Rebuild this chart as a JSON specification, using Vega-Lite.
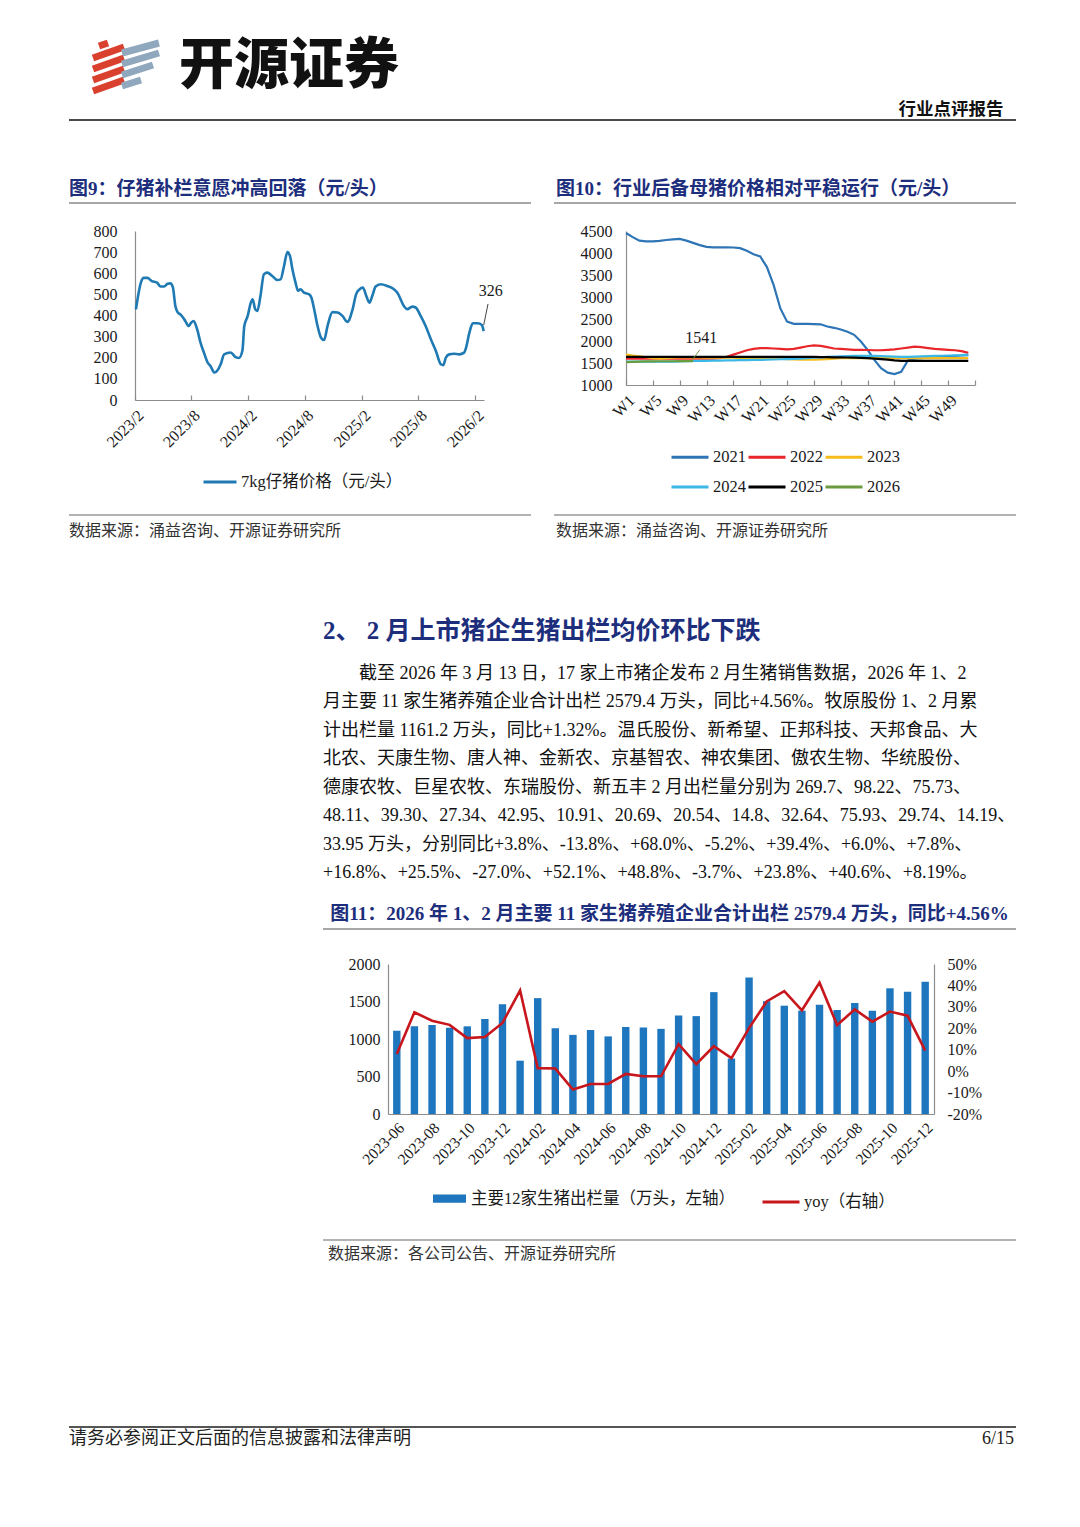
{
"$schema": "https://vega.github.io/schema/vega-lite/v6.json",
"background": "white",
"padding": {"left": 68, "top": 38, "right": 62, "bottom": 60},
"config": {
  "view": {"stroke": null},
  "font": "Liberation Serif, Noto Sans CJK SC",
  "axis": {"grid": false, "title": null, "labelFont": "Liberation Serif, Noto Sans CJK SC", "labelColor": "#1a1a1a", "labelFontSize": 16, "domainColor": "#8c8c8c", "domainWidth": 1.2, "ticks": false, "tickColor": "#8c8c8c", "tickWidth": 1.2, "labelOverlap": false},
  "legend": {"title": null, "labelFont": "Liberation Serif, Noto Sans CJK SC", "labelFontSize": 16.5, "labelColor": "#1a1a1a", "padding": 0, "labelLimit": 400},
  "title": {"font": "Liberation Serif, Noto Sans CJK SC", "anchor": "start", "frame": "group", "fontWeight": "bold", "color": "#1d2e7c", "fontSize": 19}
},
"datasets": {
  "logo": [
    {"part": "red", "x1": 2, "y1": 38, "x2": 33, "y2": 49},
    {"part": "red", "x1": 2, "y1": 27, "x2": 33, "y2": 38},
    {"part": "red", "x1": 2, "y1": 16, "x2": 33, "y2": 27},
    {"part": "red", "x1": 2, "y1": 5, "x2": 33, "y2": 16},
    {"part": "red", "x1": 8, "y1": 50, "x2": 17, "y2": 53},
    {"part": "blue", "x1": 31, "y1": 43, "x2": 68, "y2": 53},
    {"part": "blue", "x1": 31, "y1": 32, "x2": 68, "y2": 43},
    {"part": "blue", "x1": 31, "y1": 21, "x2": 62, "y2": 31},
    {"part": "blue", "x1": 31, "y1": 10, "x2": 50, "y2": 16}
  ],
  "piglet": [
    {"d": "2023-02-04", "p": 429}, {"d": "2023-02-20", "p": 556}, {"d": "2023-03-01", "p": 578}, {"d": "2023-03-13", "p": 578},
    {"d": "2023-03-27", "p": 563}, {"d": "2023-04-13", "p": 556}, {"d": "2023-04-24", "p": 537}, {"d": "2023-05-06", "p": 537},
    {"d": "2023-05-17", "p": 550}, {"d": "2023-05-26", "p": 552}, {"d": "2023-06-03", "p": 533}, {"d": "2023-06-11", "p": 445},
    {"d": "2023-06-19", "p": 414}, {"d": "2023-06-29", "p": 403}, {"d": "2023-07-13", "p": 374}, {"d": "2023-07-24", "p": 350},
    {"d": "2023-08-01", "p": 366}, {"d": "2023-08-09", "p": 374}, {"d": "2023-08-20", "p": 335}, {"d": "2023-08-31", "p": 272},
    {"d": "2023-09-13", "p": 216}, {"d": "2023-09-22", "p": 180}, {"d": "2023-10-02", "p": 161}, {"d": "2023-10-15", "p": 130},
    {"d": "2023-11-04", "p": 169}, {"d": "2023-11-15", "p": 216}, {"d": "2023-12-06", "p": 225}, {"d": "2023-12-22", "p": 203},
    {"d": "2024-01-02", "p": 199}, {"d": "2024-01-13", "p": 234}, {"d": "2024-01-19", "p": 350}, {"d": "2024-01-30", "p": 398},
    {"d": "2024-02-09", "p": 461}, {"d": "2024-02-15", "p": 477}, {"d": "2024-02-23", "p": 430}, {"d": "2024-03-01", "p": 422},
    {"d": "2024-03-11", "p": 492}, {"d": "2024-03-22", "p": 595}, {"d": "2024-04-02", "p": 603}, {"d": "2024-04-18", "p": 587},
    {"d": "2024-05-04", "p": 568}, {"d": "2024-05-15", "p": 571}, {"d": "2024-05-25", "p": 627}, {"d": "2024-06-06", "p": 700},
    {"d": "2024-06-14", "p": 682}, {"d": "2024-06-22", "p": 619}, {"d": "2024-07-02", "p": 556}, {"d": "2024-07-10", "p": 517},
    {"d": "2024-07-18", "p": 524}, {"d": "2024-07-29", "p": 508}, {"d": "2024-08-15", "p": 500}, {"d": "2024-08-22", "p": 485},
    {"d": "2024-08-31", "p": 430}, {"d": "2024-09-11", "p": 350}, {"d": "2024-09-22", "p": 295}, {"d": "2024-10-02", "p": 284},
    {"d": "2024-10-13", "p": 350}, {"d": "2024-10-29", "p": 416}, {"d": "2024-11-14", "p": 414}, {"d": "2024-11-30", "p": 398},
    {"d": "2024-12-16", "p": 370}, {"d": "2025-01-02", "p": 430}, {"d": "2025-01-13", "p": 500}, {"d": "2025-01-24", "p": 524},
    {"d": "2025-02-04", "p": 532}, {"d": "2025-02-15", "p": 492}, {"d": "2025-02-25", "p": 461}, {"d": "2025-03-06", "p": 492},
    {"d": "2025-03-17", "p": 537}, {"d": "2025-04-02", "p": 548}, {"d": "2025-04-23", "p": 540}, {"d": "2025-05-15", "p": 524},
    {"d": "2025-05-26", "p": 508}, {"d": "2025-06-16", "p": 445}, {"d": "2025-06-27", "p": 430}, {"d": "2025-07-13", "p": 442},
    {"d": "2025-07-24", "p": 438}, {"d": "2025-08-09", "p": 398}, {"d": "2025-08-25", "p": 350}, {"d": "2025-09-11", "p": 287},
    {"d": "2025-09-27", "p": 232}, {"d": "2025-10-13", "p": 169}, {"d": "2025-10-21", "p": 165}, {"d": "2025-10-29", "p": 200},
    {"d": "2025-11-09", "p": 216}, {"d": "2025-11-25", "p": 219}, {"d": "2025-12-11", "p": 216}, {"d": "2025-12-27", "p": 224},
    {"d": "2026-01-02", "p": 247}, {"d": "2026-01-13", "p": 319}, {"d": "2026-01-24", "p": 363}, {"d": "2026-02-09", "p": 363},
    {"d": "2026-02-22", "p": 355}, {"d": "2026-02-28", "p": 326}
  ],
  "gilt": [
    {"w": 1, "2021": 4455, "2022": 1600, "2023": 1690, "2024": 1530, "2025": 1640, "2026": 1520},
    {"w": 2, "2021": 4360, "2022": 1600, "2023": 1670, "2024": 1530, "2025": 1640, "2026": 1525},
    {"w": 3, "2021": 4280, "2022": 1600, "2023": 1650, "2024": 1530, "2025": 1640, "2026": 1530},
    {"w": 4, "2021": 4265, "2022": 1600, "2023": 1630, "2024": 1530, "2025": 1640, "2026": 1535},
    {"w": 5, "2021": 4265, "2022": 1600, "2023": 1610, "2024": 1530, "2025": 1640, "2026": 1538},
    {"w": 6, "2021": 4275, "2022": 1600, "2023": 1600, "2024": 1530, "2025": 1640, "2026": 1540},
    {"w": 7, "2021": 4295, "2022": 1600, "2023": 1610, "2024": 1530, "2025": 1640, "2026": 1540},
    {"w": 8, "2021": 4310, "2022": 1600, "2023": 1620, "2024": 1530, "2025": 1640, "2026": 1540},
    {"w": 9, "2021": 4320, "2022": 1600, "2023": 1630, "2024": 1535, "2025": 1640, "2026": 1541},
    {"w": 10, "2021": 4280, "2022": 1600, "2023": 1630, "2024": 1540, "2025": 1640, "2026": 1541},
    {"w": 11, "2021": 4230, "2022": 1600, "2023": 1630, "2024": 1545, "2025": 1640, "2026": 1541},
    {"w": 12, "2021": 4180, "2022": 1600, "2023": 1630, "2024": 1550, "2025": 1640},
    {"w": 13, "2021": 4140, "2022": 1600, "2023": 1620, "2024": 1550, "2025": 1640},
    {"w": 14, "2021": 4130, "2022": 1600, "2023": 1620, "2024": 1555, "2025": 1640},
    {"w": 15, "2021": 4130, "2022": 1610, "2023": 1620, "2024": 1555, "2025": 1640},
    {"w": 16, "2021": 4130, "2022": 1640, "2023": 1620, "2024": 1560, "2025": 1640},
    {"w": 17, "2021": 4125, "2022": 1690, "2023": 1620, "2024": 1560, "2025": 1640},
    {"w": 18, "2021": 4110, "2022": 1740, "2023": 1610, "2024": 1565, "2025": 1640},
    {"w": 19, "2021": 4050, "2022": 1790, "2023": 1610, "2024": 1565, "2025": 1640},
    {"w": 20, "2021": 3970, "2022": 1820, "2023": 1610, "2024": 1570, "2025": 1640},
    {"w": 21, "2021": 3920, "2022": 1840, "2023": 1600, "2024": 1570, "2025": 1640},
    {"w": 22, "2021": 3680, "2022": 1840, "2023": 1600, "2024": 1575, "2025": 1640},
    {"w": 23, "2021": 3270, "2022": 1830, "2023": 1600, "2024": 1580, "2025": 1640},
    {"w": 24, "2021": 2740, "2022": 1820, "2023": 1600, "2024": 1585, "2025": 1640},
    {"w": 25, "2021": 2440, "2022": 1810, "2023": 1590, "2024": 1590, "2025": 1640},
    {"w": 26, "2021": 2390, "2022": 1820, "2023": 1580, "2024": 1595, "2025": 1640},
    {"w": 27, "2021": 2390, "2022": 1850, "2023": 1575, "2024": 1600, "2025": 1640},
    {"w": 28, "2021": 2390, "2022": 1880, "2023": 1575, "2024": 1610, "2025": 1640},
    {"w": 29, "2021": 2385, "2022": 1900, "2023": 1575, "2024": 1620, "2025": 1640},
    {"w": 30, "2021": 2380, "2022": 1890, "2023": 1580, "2024": 1630, "2025": 1635},
    {"w": 31, "2021": 2330, "2022": 1860, "2023": 1590, "2024": 1640, "2025": 1635},
    {"w": 32, "2021": 2300, "2022": 1830, "2023": 1600, "2024": 1645, "2025": 1630},
    {"w": 33, "2021": 2260, "2022": 1820, "2023": 1610, "2024": 1650, "2025": 1630},
    {"w": 34, "2021": 2210, "2022": 1810, "2023": 1610, "2024": 1655, "2025": 1625},
    {"w": 35, "2021": 2140, "2022": 1800, "2023": 1610, "2024": 1660, "2025": 1620},
    {"w": 36, "2021": 1990, "2022": 1800, "2023": 1610, "2024": 1660, "2025": 1615},
    {"w": 37, "2021": 1800, "2022": 1795, "2023": 1610, "2024": 1660, "2025": 1610},
    {"w": 38, "2021": 1570, "2022": 1790, "2023": 1610, "2024": 1660, "2025": 1600},
    {"w": 39, "2021": 1380, "2022": 1790, "2023": 1610, "2024": 1655, "2025": 1590},
    {"w": 40, "2021": 1280, "2022": 1800, "2023": 1610, "2024": 1650, "2025": 1575},
    {"w": 41, "2021": 1250, "2022": 1810, "2023": 1610, "2024": 1645, "2025": 1560},
    {"w": 42, "2021": 1300, "2022": 1830, "2023": 1610, "2024": 1640, "2025": 1550},
    {"w": 43, "2021": 1560, "2022": 1850, "2023": 1610, "2024": 1640, "2025": 1550},
    {"w": 44, "2021": 1600, "2022": 1870, "2023": 1610, "2024": 1645, "2025": 1550},
    {"w": 45, "2021": 1610, "2022": 1860, "2023": 1610, "2024": 1650, "2025": 1550},
    {"w": 46, "2021": 1620, "2022": 1840, "2023": 1610, "2024": 1655, "2025": 1550},
    {"w": 47, "2021": 1630, "2022": 1820, "2023": 1610, "2024": 1660, "2025": 1550},
    {"w": 48, "2021": 1640, "2022": 1810, "2023": 1610, "2024": 1665, "2025": 1550},
    {"w": 49, "2021": 1650, "2022": 1800, "2023": 1610, "2024": 1670, "2025": 1550},
    {"w": 50, "2021": 1660, "2022": 1790, "2023": 1610, "2024": 1675, "2025": 1550},
    {"w": 51, "2021": 1670, "2022": 1770, "2023": 1610, "2024": 1680, "2025": 1550},
    {"w": 52, "2021": 1680, "2022": 1730, "2023": 1610, "2024": 1690, "2025": 1550}
  ],
  "sales": [
    {"m": "2023-06", "v": 1110, "yoy": 8.0}, {"m": "2023-07", "v": 1170, "yoy": 27.5}, {"m": "2023-08", "v": 1187, "yoy": 23.5},
    {"m": "2023-09", "v": 1151, "yoy": 21.6}, {"m": "2023-10", "v": 1169, "yoy": 15.4}, {"m": "2023-11", "v": 1267, "yoy": 15.9},
    {"m": "2023-12", "v": 1462, "yoy": 22.5}, {"m": "2024-01", "v": 711, "yoy": 37.7}, {"m": "2024-02", "v": 1545, "yoy": 1.4},
    {"m": "2024-03", "v": 1145, "yoy": 1.2}, {"m": "2024-04", "v": 1055, "yoy": -8.6}, {"m": "2024-05", "v": 1120, "yoy": -6.0},
    {"m": "2024-06", "v": 1035, "yoy": -6.0}, {"m": "2024-07", "v": 1160, "yoy": -1.3}, {"m": "2024-08", "v": 1155, "yoy": -2.4},
    {"m": "2024-09", "v": 1135, "yoy": -2.4}, {"m": "2024-10", "v": 1315, "yoy": 12.6}, {"m": "2024-11", "v": 1305, "yoy": 3.3},
    {"m": "2024-12", "v": 1625, "yoy": 11.6}, {"m": "2025-01", "v": 740, "yoy": 6.1}, {"m": "2025-02", "v": 1820, "yoy": 20.1},
    {"m": "2025-03", "v": 1505, "yoy": 32.5}, {"m": "2025-04", "v": 1444, "yoy": 37.3}, {"m": "2025-05", "v": 1378, "yoy": 28.4},
    {"m": "2025-06", "v": 1458, "yoy": 41.3}, {"m": "2025-07", "v": 1387, "yoy": 21.5}, {"m": "2025-08", "v": 1480, "yoy": 28.8},
    {"m": "2025-09", "v": 1378, "yoy": 23.1}, {"m": "2025-10", "v": 1676, "yoy": 27.8}, {"m": "2025-11", "v": 1631, "yoy": 25.9},
    {"m": "2025-12", "v": 1764, "yoy": 9.6}
  ]
},
"spacing": 0,
"resolve": {"scale": {"color": "independent", "fill": "independent", "stroke": "independent"}, "legend": {"color": "independent", "fill": "independent", "stroke": "independent"}},
"vconcat": [
  {"hconcat": [
    {"width": 22, "height": 81, "data": {"values": []}, "mark": "point"},
    {"width": 70, "height": 58, "data": {"name": "logo"},
     "mark": {"type": "rule", "strokeWidth": 7, "strokeCap": "butt"},
     "encoding": {
       "x": {"field": "x1", "type": "quantitative", "scale": {"domain": [0, 70], "nice": false, "zero": false}, "axis": null},
       "y": {"field": "y1", "type": "quantitative", "scale": {"domain": [0, 58], "nice": false, "zero": false}, "axis": null},
       "x2": {"field": "x2"}, "y2": {"field": "y2"},
       "color": {"field": "part", "type": "nominal", "scale": {"domain": ["red", "blue"], "range": ["#D9412E", "#8FA8BD"]}, "legend": null}
     }},
    {"width": 18, "height": 1, "data": {"values": []}, "mark": "point"},
    {"width": 220, "height": 56, "data": {"values": [{"t": "开源证券"}]},
     "mark": {"type": "text", "font": "Noto Sans CJK SC", "fontWeight": 900, "fontSize": 55, "color": "#111111"},
     "encoding": {"text": {"field": "t"}}},
    {"width": 497, "height": 1, "data": {"values": []}, "mark": "point"},
    {"width": 110, "height": 81, "data": {"values": [{"t": "行业点评报告"}]},
     "mark": {"type": "text", "font": "Noto Sans CJK SC", "fontWeight": "bold", "fontSize": 17.5, "color": "#111111", "baseline": "bottom"},
     "encoding": {"text": {"field": "t"}, "y": {"value": "height"}}}
  ], "spacing": 0, "bounds": "flush", "resolve": {"scale": {"color": "independent"}, "legend": {"color": "independent"}}},

  {"hconcat": [
    {"width": 462, "height": 1, "data": {"values": [{}]},
     "mark": {"type": "rule", "color": "#4a4a4a", "strokeWidth": 2},
     "encoding": {"y": {"value": "height"}},
     "title": {"text": "图9：仔猪补栏意愿冲高回落（元/头）", "orient": "bottom", "offset": 59, "baseline": "top"}},
    {"width": 23, "height": 1, "data": {"values": [{}]},
     "mark": {"type": "rule", "color": "#4a4a4a", "strokeWidth": 2},
     "encoding": {"y": {"value": "height"}}},
    {"width": 462, "height": 1, "data": {"values": [{}]},
     "mark": {"type": "rule", "color": "#4a4a4a", "strokeWidth": 2},
     "encoding": {"y": {"value": "height"}},
     "title": {"text": "图10：行业后备母猪价格相对平稳运行（元/头）", "orient": "bottom", "offset": 59, "dx": 2, "baseline": "top"}},
    {"width": 1, "height": 83, "data": {"values": []}, "mark": "point"}
  ], "spacing": 0, "bounds": "flush"},

  {"hconcat": [
    {"width": 462, "height": 1, "data": {"values": [{}]},
     "mark": {"type": "rule", "color": "#8a8a8a", "strokeWidth": 1.5},
     "encoding": {"y": {"value": "height"}}},
    {"width": 23, "height": 21, "data": {"values": []}, "mark": "point"},
    {"width": 462, "height": 1, "data": {"values": [{}]},
     "mark": {"type": "rule", "color": "#8a8a8a", "strokeWidth": 1.5},
     "encoding": {"y": {"value": "height"}}}
  ], "spacing": 0, "bounds": "flush"},

  {"hconcat": [
    {"width": 66, "height": 283, "data": {"values": []}, "mark": "point"},
    {"width": 349, "height": 169, "data": {"name": "piglet"},
     "layer": [
       {"mark": {"type": "line", "strokeWidth": 2.6, "interpolate": "monotone"},
        "encoding": {
          "x": {"field": "d", "type": "temporal",
                "scale": {"type": "utc", "domain": [{"year": 2023, "month": 2, "date": 1, "utc": true}, {"year": 2026, "month": 3, "date": 1, "utc": true}]},
                "axis": {"values": [{"year": 2023, "month": 2, "date": 1, "utc": true}, {"year": 2023, "month": 8, "date": 1, "utc": true}, {"year": 2024, "month": 2, "date": 1, "utc": true}, {"year": 2024, "month": 8, "date": 1, "utc": true}, {"year": 2025, "month": 2, "date": 1, "utc": true}, {"year": 2025, "month": 8, "date": 1, "utc": true}, {"year": 2026, "month": 2, "date": 1, "utc": true}],
                         "format": "%Y/%-m", "labelAngle": -45, "labelFontSize": 16, "labelPadding": 12, "labelOverlap": false, "ticks": true, "tickSize": -5}},
          "y": {"field": "p", "type": "quantitative", "scale": {"domain": [0, 800], "nice": false},
                "axis": {"values": [0, 100, 200, 300, 400, 500, 600, 700, 800], "format": "d", "labelPadding": 18, "labelOverlap": false}},
          "color": {"datum": "7kg仔猪价格（元/头）", "scale": {"range": ["#1F7AB4"]},
                    "legend": {"orient": "none", "legendX": 67, "legendY": 233, "symbolType": "stroke", "symbolSize": 1089, "symbolStrokeWidth": 3, "labelOffset": 3}}
        }},
       {"transform": [{"filter": "datum.p == 326"}],
        "mark": {"type": "rule", "color": "#444444", "strokeWidth": 1},
        "encoding": {
          "x": {"field": "d", "type": "temporal",
                "axis": {"values": [{"year": 2023, "month": 2, "date": 1, "utc": true}, {"year": 2023, "month": 8, "date": 1, "utc": true}, {"year": 2024, "month": 2, "date": 1, "utc": true}, {"year": 2024, "month": 8, "date": 1, "utc": true}, {"year": 2025, "month": 2, "date": 1, "utc": true}, {"year": 2025, "month": 8, "date": 1, "utc": true}, {"year": 2026, "month": 2, "date": 1, "utc": true}],
                         "format": "%Y/%-m", "labelAngle": -45, "labelFontSize": 16, "labelPadding": 12, "labelOverlap": false, "ticks": true, "tickSize": -5}},
          "y": {"datum": 355, "type": "quantitative",
                "axis": {"values": [0, 100, 200, 300, 400, 500, 600, 700, 800], "format": "d", "labelPadding": 18, "labelOverlap": false}},
          "x2": {"datum": {"year": 2026, "month": 3, "date": 14, "utc": true}},
          "y2": {"datum": 455}
        }},
       {"transform": [{"filter": "datum.p == 326"}],
        "mark": {"type": "text", "font": "Liberation Serif", "fontSize": 16, "color": "#1a1a1a", "dx": 7},
        "encoding": {
          "x": {"field": "d", "type": "temporal",
                "axis": {"values": [{"year": 2023, "month": 2, "date": 1, "utc": true}, {"year": 2023, "month": 8, "date": 1, "utc": true}, {"year": 2024, "month": 2, "date": 1, "utc": true}, {"year": 2024, "month": 8, "date": 1, "utc": true}, {"year": 2025, "month": 2, "date": 1, "utc": true}, {"year": 2025, "month": 8, "date": 1, "utc": true}, {"year": 2026, "month": 2, "date": 1, "utc": true}],
                         "format": "%Y/%-m", "labelAngle": -45, "labelFontSize": 16, "labelPadding": 12, "labelOverlap": false, "ticks": true, "tickSize": -5}},
          "y": {"datum": 515, "type": "quantitative",
                "axis": {"values": [0, 100, 200, 300, 400, 500, 600, 700, 800], "format": "d", "labelPadding": 18, "labelOverlap": false}},
          "text": {"field": "p", "type": "quantitative"}
        }}
     ]},
    {"width": 142, "height": 1, "data": {"values": []}, "mark": "point"},
    {"width": 349, "height": 154,
     "layer": [
       {"data": {"name": "gilt"},
        "transform": [{"fold": ["2021", "2022", "2023", "2024", "2025", "2026"], "as": ["year", "price"]}],
        "mark": {"type": "line", "strokeWidth": 2.2},
        "encoding": {
          "x": {"field": "w", "type": "quantitative", "scale": {"domain": [1, 53], "nice": false, "zero": false},
                "axis": {"values": [1, 5, 9, 13, 17, 21, 25, 29, 33, 37, 41, 45, 49, 53], "labelExpr": "datum.value < 50 ? 'W' + datum.value : ''", "labelAngle": -45, "labelFontSize": 16, "labelPadding": 12, "labelOverlap": false, "ticks": true, "tickSize": -5}},
          "y": {"field": "price", "type": "quantitative", "scale": {"domain": [1000, 4500], "nice": false, "zero": false},
                "axis": {"values": [1000, 1500, 2000, 2500, 3000, 3500, 4000, 4500], "format": "d", "labelPadding": 14, "labelOverlap": false}},
          "color": {"field": "year", "type": "nominal",
                    "scale": {"domain": ["2021", "2022", "2023", "2024", "2025", "2026"], "range": ["#2E75B6", "#E8262B", "#F5BC1C", "#3CB8E6", "#000000", "#6A9C3F"]},
                    "legend": {"orient": "none", "legendX": 44, "legendY": 206, "columns": 3, "direction": "horizontal", "symbolType": "stroke", "symbolSize": 1369, "symbolStrokeWidth": 3, "labelOffset": 3, "rowPadding": 1, "columnPadding": -4}}
        }},
       {"data": {"values": [{"w": 11, "p": 1541}]},
        "mark": {"type": "rule", "color": "#7a9c4f", "strokeWidth": 1},
        "encoding": {
          "x": {"datum": 10.9, "type": "quantitative",
                "axis": {"values": [1, 5, 9, 13, 17, 21, 25, 29, 33, 37, 41, 45, 49, 53], "labelExpr": "datum.value < 50 ? 'W' + datum.value : ''", "labelAngle": -45, "labelFontSize": 16, "labelPadding": 12, "labelOverlap": false, "ticks": true, "tickSize": -5}},
          "y": {"datum": 1575, "type": "quantitative",
                "axis": {"values": [1000, 1500, 2000, 2500, 3000, 3500, 4000, 4500], "format": "d", "labelPadding": 14, "labelOverlap": false}},
          "x2": {"datum": 12.0},
          "y2": {"datum": 1800}
        }},
       {"data": {"values": [{"w": 11, "p": 1541}]},
        "mark": {"type": "text", "font": "Liberation Serif", "fontSize": 16, "color": "#1a1a1a"},
        "encoding": {
          "x": {"datum": 12.2, "type": "quantitative",
                "axis": {"values": [1, 5, 9, 13, 17, 21, 25, 29, 33, 37, 41, 45, 49, 53], "labelExpr": "datum.value < 50 ? 'W' + datum.value : ''", "labelAngle": -45, "labelFontSize": 16, "labelPadding": 12, "labelOverlap": false, "ticks": true, "tickSize": -5}},
          "y": {"datum": 2066, "type": "quantitative",
                "axis": {"values": [1000, 1500, 2000, 2500, 3000, 3500, 4000, 4500], "format": "d", "labelPadding": 14, "labelOverlap": false}},
          "text": {"field": "p", "type": "quantitative"}
        }}
     ]}
  ], "spacing": 0, "bounds": "flush", "resolve": {"scale": {"color": "independent"}, "legend": {"color": "independent"}}},

  {"hconcat": [
    {"width": 462, "height": 1, "data": {"values": [{}]},
     "mark": {"type": "rule", "color": "#9a9a9a", "strokeWidth": 1.5},
     "encoding": {"y": {"value": "height"}},
     "title": {"text": "数据来源：涌益咨询、开源证券研究所", "orient": "bottom", "offset": 7, "baseline": "top", "fontSize": 16, "fontWeight": "normal", "color": "#333333"}},
    {"width": 23, "height": 105, "data": {"values": []}, "mark": "point"},
    {"width": 462, "height": 1, "data": {"values": [{}]},
     "mark": {"type": "rule", "color": "#9a9a9a", "strokeWidth": 1.5},
     "encoding": {"y": {"value": "height"}},
     "title": {"text": "数据来源：涌益咨询、开源证券研究所", "orient": "bottom", "offset": 7, "dx": 2, "baseline": "top", "fontSize": 16, "fontWeight": "normal", "color": "#333333"}}
  ], "spacing": 0, "bounds": "flush"},

  {"hconcat": [
    {"width": 254, "height": 283, "data": {"values": []}, "mark": "point"},
    {"width": 693, "height": 1, "data": {"values": []}, "mark": "point",
     "title": {"text": "2、 2 月上市猪企生猪出栏均价环比下跌", "orient": "bottom", "offset": -3, "baseline": "top", "fontSize": 25, "fontWeight": "bold", "color": "#1d2e7c",
               "subtitle": [
                 "\u200b\u3000\u3000截至 2026 年 3 月 13 日，17 家上市猪企发布 2 月生猪销售数据，2026 年 1、2",
                 "月主要 11 家生猪养殖企业合计出栏 2579.4 万头，同比+4.56%。牧原股份 1、2 月累",
                 "计出栏量 1161.2 万头，同比+1.32%。温氏股份、新希望、正邦科技、天邦食品、大",
                 "北农、天康生物、唐人神、金新农、京基智农、神农集团、傲农生物、华统股份、",
                 "德康农牧、巨星农牧、东瑞股份、新五丰 2 月出栏量分别为 269.7、98.22、75.73、",
                 "48.11、39.30、27.34、42.95、10.91、20.69、20.54、14.8、32.64、75.93、29.74、14.19、",
                 "33.95 万头，分别同比+3.8%、-13.8%、+68.0%、-5.2%、+39.4%、+6.0%、+7.8%、",
                 "+16.8%、+25.5%、-27.0%、+52.1%、+48.8%、-3.7%、+23.8%、+40.6%、+8.19%。"
               ],
               "subtitleFont": "Liberation Serif, Noto Sans CJK SC", "subtitleFontSize": 18, "subtitleLineHeight": 28.5, "subtitlePadding": 20.5, "subtitleColor": "#111111", "subtitleFontWeight": "normal"}}
  ], "spacing": 0, "bounds": "flush"},

  {"hconcat": [
    {"width": 254, "height": 52, "data": {"values": []}, "mark": "point"},
    {"width": 693, "height": 25,
     "layer": [
       {"data": {"values": [{}]},
        "mark": {"type": "rule", "color": "#8a8a8a", "strokeWidth": 1.5},
        "encoding": {"y": {"value": "height"}}},
       {"data": {"values": [{"t": "图11：2026 年 1、2 月主要 11 家生猪养殖企业合计出栏 2579.4 万头，同比+4.56%"}]},
        "mark": {"type": "text", "font": "Liberation Serif, Noto Sans CJK SC", "fontSize": 19, "fontWeight": "bold", "color": "#1d2e7c", "dy": -3},
        "encoding": {"text": {"field": "t"}}}
     ]}
  ], "spacing": 0, "bounds": "flush"},

  {"hconcat": [
    {"width": 319, "height": 275, "data": {"values": []}, "mark": "point"},
    {"width": 546, "height": 150, "data": {"name": "sales"},
     "layer": [
       {"mark": {"type": "bar"},
        "encoding": {
          "x": {"field": "m", "type": "ordinal", "scale": {"paddingInner": 0.58, "paddingOuter": 0.29},
                "axis": {"values": ["2023-06", "2023-08", "2023-10", "2023-12", "2024-02", "2024-04", "2024-06", "2024-08", "2024-10", "2024-12", "2025-02", "2025-04", "2025-06", "2025-08", "2025-10", "2025-12"], "labelAngle": -45, "labelFontSize": 15.5, "labelPadding": 6, "labelOverlap": false}},
          "y": {"field": "v", "type": "quantitative", "scale": {"domain": [0, 2000], "nice": false},
                "axis": {"orient": "left", "values": [0, 500, 1000, 1500, 2000], "format": "d", "labelPadding": 8, "labelOverlap": false}},
          "fill": {"datum": "主要12家生猪出栏量（万头，左轴）", "scale": {"range": ["#1E76BE"]},
                   "legend": {"orient": "none", "legendX": 45, "legendY": 218, "symbolType": "M-1,-0.25H1V0.25H-1Z", "symbolSize": 1089, "symbolStrokeWidth": 0, "labelOffset": 5}}
        }},
       {"mark": {"type": "line", "strokeWidth": 2.6},
        "encoding": {
          "x": {"field": "m", "type": "ordinal"},
          "y": {"field": "yoy", "type": "quantitative", "scale": {"domain": [-20, 50], "nice": false, "zero": false},
                "axis": {"orient": "right", "values": [-20, -10, 0, 10, 20, 30, 40, 50], "labelExpr": "datum.value + '%'", "labelPadding": 13, "labelOverlap": false}},
          "stroke": {"datum": "yoy（右轴）", "scale": {"range": ["#C8161D"]},
                     "legend": {"orient": "none", "legendX": 373, "legendY": 218, "symbolType": "stroke", "symbolSize": 1369, "symbolStrokeWidth": 3, "labelOffset": 3}}
        }}
     ],
     "resolve": {"scale": {"y": "independent"}}}
  ], "spacing": 0, "bounds": "flush", "resolve": {"scale": {"fill": "independent", "stroke": "independent"}, "legend": {"fill": "independent", "stroke": "independent"}}},

  {"hconcat": [
    {"width": 254, "height": 187, "data": {"values": []}, "mark": "point"},
    {"width": 693, "height": 1, "data": {"values": [{}]},
     "mark": {"type": "rule", "color": "#9a9a9a", "strokeWidth": 1.5},
     "encoding": {"y": {"value": "height"}},
     "title": {"text": "数据来源：各公司公告、开源证券研究所", "orient": "bottom", "offset": 5, "dx": 5, "baseline": "top", "fontSize": 16, "fontWeight": "normal", "color": "#333333"}}
  ], "spacing": 0, "bounds": "flush"},

  {"hconcat": [
    {"width": 900, "height": 1, "data": {"values": [{}]},
     "mark": {"type": "rule", "color": "#555555", "strokeWidth": 2},
     "encoding": {"y": {"value": "height"}},
     "title": {"text": "请务必参阅正文后面的信息披露和法律声明", "orient": "bottom", "offset": 2, "baseline": "top", "fontSize": 18, "fontWeight": "normal", "color": "#222222"}},
    {"width": 47, "height": 1, "data": {"values": [{}]},
     "mark": {"type": "rule", "color": "#555555", "strokeWidth": 2},
     "encoding": {"y": {"value": "height"}},
     "title": {"text": "6/15", "orient": "bottom", "anchor": "end", "offset": 2, "dx": -2, "baseline": "top", "fontSize": 18, "fontWeight": "normal", "color": "#222222"}}
  ], "spacing": 0, "bounds": "flush"}
]
}
